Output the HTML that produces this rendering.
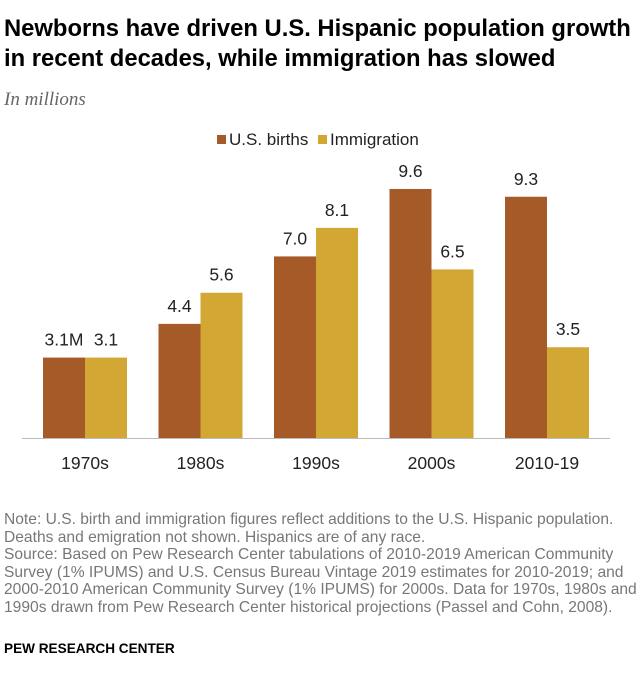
<!DOCTYPE html>
<html><head><meta charset="utf-8"><style>
body{margin:0;width:639px;height:684px;background:#fff;font-family:"Liberation Sans",Arial,sans-serif;color:#222;overflow:hidden;position:relative}
.t{position:absolute;left:4px;top:14px;font-size:23.8px;font-weight:bold;line-height:30px;color:#000;white-space:nowrap}
.sub{position:absolute;left:4px;top:89px;font-family:"Liberation Serif",serif;font-style:italic;font-size:19px;color:#666}
.note{position:absolute;left:4px;top:511px;font-size:15.6px;line-height:17.5px;color:#777;white-space:nowrap}
.pew{position:absolute;left:4px;top:641px;font-size:13.6px;font-weight:bold;color:#000}
</style></head><body>
<div class="t">Newborns have driven U.S. Hispanic population growth<br>in recent decades, while immigration has slowed</div>
<div class="sub">In millions</div>
<svg id="c" width="639" height="480" style="position:absolute;left:0;top:0">
<g>
<rect x="217" y="135" width="9" height="9" fill="#a65a27"/>
<text x="229" y="145" font-size="17" fill="#222">U.S. births</text>
<rect x="318" y="135" width="9" height="9" fill="#d3a733"/>
<text x="330" y="145" font-size="17" fill="#222">Immigration</text>
</g>
<line x1="22" y1="438.5" x2="610" y2="438.5" stroke="#bbb" stroke-width="1"/>
</svg>
<div class="note">Note: U.S. birth and immigration figures reflect additions to the U.S. Hispanic population.<br>Deaths and emigration not shown. Hispanics are of any race.<br>Source: Based on Pew Research Center tabulations of 2010-2019 American Community<br>Survey (1% IPUMS) and U.S. Census Bureau Vintage 2019 estimates for 2010-2019; and<br>2000-2010 American Community Survey (1% IPUMS) for 2000s. Data for 1970s, 1980s and<br>1990s drawn from Pew Research Center historical projections (Passel and Cohn, 2008).</div>
<div class="pew">PEW RESEARCH CENTER</div>
<script>
const categories=["1970s","1980s","1990s","2000s","2010-19"];
const births=[3.1,4.4,7.0,9.6,9.3];
const immigration=[3.1,5.6,8.1,6.5,3.5];
const birthLabels=["3.1M","4.4","7.0","9.6","9.3"];
const immLabels=["3.1","5.6","8.1","6.5","3.5"];
const svg=document.getElementById('c');
const NS="http://www.w3.org/2000/svg";
const base=438, scale=25.94, x0=43, step=115.5, bw=42;
const y=v=>base-v*scale;
const xs=i=>x0+i*step;
function mk(tag,attrs){const e=document.createElementNS(NS,tag);for(const k in attrs)e.setAttribute(k,attrs[k]);svg.appendChild(e);return e;}
categories.forEach((c,i)=>{
  const x=xs(i);
  const b=mk('rect',{x:x,y:y(births[i]),width:bw,height:births[i]*scale,fill:'#a65a27'});
  
  
  const m=mk('rect',{x:x+bw,y:y(immigration[i]),width:bw,height:immigration[i]*scale,fill:'#d3a733'});
  
  
  const t1=mk('text',{x:x+bw/2,y:y(births[i])-12,'text-anchor':'middle','font-size':'17.5',fill:'#222'});
  t1.textContent=birthLabels[i];
  
  
  const t2=mk('text',{x:x+bw*1.5,y:y(immigration[i])-12,'text-anchor':'middle','font-size':'17.5',fill:'#222'});
  t2.textContent=immLabels[i];
  
  
  const t3=mk('text',{x:x+bw,y:469,'text-anchor':'middle','font-size':'17.5',fill:'#222'});
  t3.textContent=c;
  
  
});
</script>
</body></html>
